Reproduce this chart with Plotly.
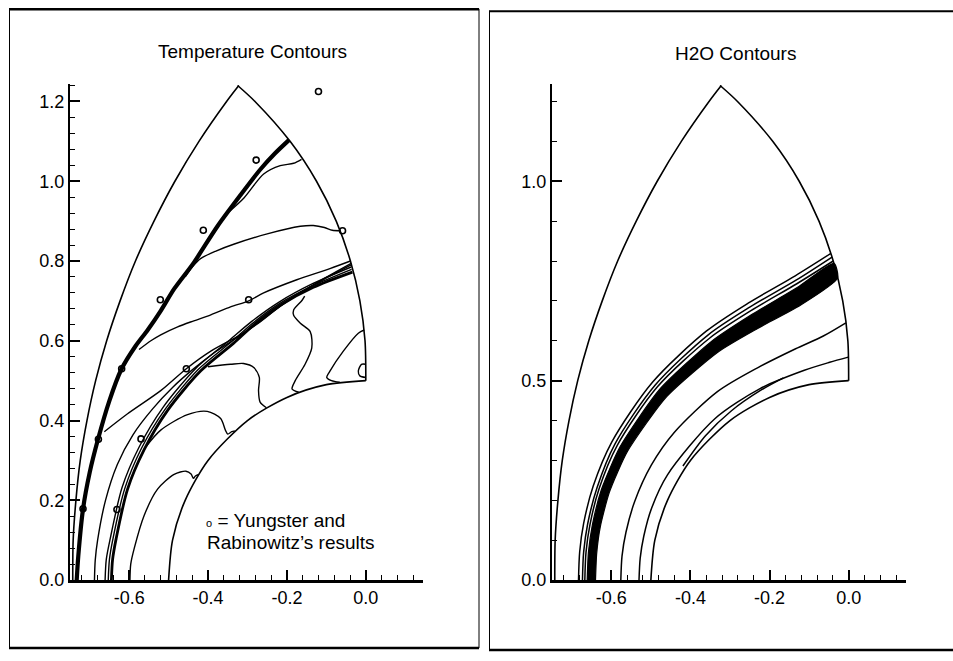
import plotly.graph_objects as go

# ---------------- shared geometry (data units) ----------------
outer_left_x = [-0.743, -0.742, -0.735, -0.724, -0.707, -0.685, -0.657, -0.623, -0.584, -0.537, -0.484, -0.423, -0.353, -0.322]
outer_left_y = [0.000, 0.100, 0.200, 0.300, 0.400, 0.500, 0.600, 0.700, 0.800, 0.900, 1.000, 1.100, 1.200, 1.240]
outer_right_x = [-0.325, -0.281, -0.192, -0.125, -0.075, -0.039, -0.015, -0.002, 0.000]
outer_right_y = [1.240, 1.200, 1.100, 1.000, 0.900, 0.800, 0.700, 0.600, 0.500]
body_x = [0.000, -0.100, -0.200, -0.300, -0.400, -0.458, -0.490, -0.500]
body_y = [0.500, 0.490, 0.458, 0.400, 0.300, 0.200, 0.100, 0.000]

# ---------------- temperature contours (left) ----------------
tA_x = [-0.733, -0.729, -0.717, -0.700, -0.679, -0.650, -0.620, -0.585, -0.553, -0.520, -0.486, -0.436, -0.377, -0.318, -0.267, -0.230, -0.195]
tA_y = [0.000, 0.060, 0.178, 0.270, 0.353, 0.450, 0.528, 0.585, 0.627, 0.675, 0.730, 0.796, 0.886, 0.965, 1.030, 1.070, 1.103]
tB_x = [-0.345, -0.309, -0.259, -0.217, -0.183, -0.163]
tB_y = [0.925, 0.958, 1.018, 1.039, 1.045, 1.055]
tC_x = [-0.458, -0.440, -0.419, -0.380, -0.335, -0.250, -0.166, -0.133, -0.105, -0.085, -0.064]
tC_y = [0.760, 0.785, 0.806, 0.825, 0.842, 0.868, 0.887, 0.889, 0.884, 0.877, 0.876]
tD_x = [-0.575, -0.545, -0.520, -0.477, -0.436, -0.393, -0.343, -0.297, -0.259, -0.175, -0.091, -0.039]
tD_y = [0.578, 0.600, 0.615, 0.635, 0.650, 0.665, 0.685, 0.700, 0.720, 0.753, 0.781, 0.800]
tF_x = [-0.663, -0.604, -0.520, -0.455, -0.393, -0.318, -0.267, -0.200, -0.120, -0.037]
tF_y = [0.372, 0.417, 0.475, 0.530, 0.574, 0.615, 0.648, 0.700, 0.748, 0.794]
tE1_x = [-0.688, -0.686, -0.680, -0.660, -0.630, -0.590, -0.540, -0.490, -0.440, -0.380, -0.320, -0.260, -0.190, -0.110, -0.037]
tE1_y = [0.000, 0.050, 0.100, 0.200, 0.290, 0.365, 0.430, 0.483, 0.527, 0.573, 0.612, 0.655, 0.705, 0.752, 0.790]
tE2_x = [-0.661, -0.658, -0.648, -0.618, -0.575, -0.515, -0.430, -0.345, -0.290, -0.220, -0.135, -0.037]
tE2_y = [0.000, 0.052, 0.104, 0.232, 0.333, 0.432, 0.532, 0.602, 0.648, 0.697, 0.743, 0.785]
tE3_x = [-0.653, -0.650, -0.641, -0.611, -0.569, -0.509, -0.425, -0.340, -0.287, -0.219, -0.134, -0.036]
tE3_y = [0.000, 0.052, 0.104, 0.230, 0.330, 0.428, 0.528, 0.598, 0.644, 0.693, 0.738, 0.779]
tE_x = [-0.645, -0.642, -0.633, -0.604, -0.562, -0.503, -0.419, -0.335, -0.284, -0.217, -0.133, -0.034]
tE_y = [0.000, 0.052, 0.104, 0.228, 0.327, 0.425, 0.524, 0.594, 0.640, 0.689, 0.734, 0.772]
tG_x = [-0.598, -0.596, -0.587, -0.562, -0.528, -0.486, -0.456, -0.443, -0.437, -0.432, -0.425]
tG_y = [0.000, 0.040, 0.080, 0.162, 0.228, 0.265, 0.273, 0.266, 0.255, 0.261, 0.264]
tL_x = [-0.557, -0.520, -0.452, -0.402, -0.368, -0.356, -0.350, -0.340, -0.332]
tL_y = [0.335, 0.376, 0.415, 0.423, 0.405, 0.376, 0.366, 0.372, 0.374]
tH_x = [-0.400, -0.343, -0.310, -0.284, -0.270, -0.272, -0.268, -0.252]
tH_y = [0.535, 0.541, 0.543, 0.533, 0.508, 0.475, 0.446, 0.432]
tI_x = [-0.155, -0.162, -0.183, -0.183, -0.166, -0.141, -0.137, -0.154, -0.179, -0.187, -0.170]
tI_y = [0.712, 0.701, 0.677, 0.664, 0.644, 0.623, 0.582, 0.541, 0.500, 0.479, 0.471]
tJ_x = [-0.004, -0.019, -0.057, -0.091, -0.099, -0.087, -0.066]
tJ_y = [0.627, 0.619, 0.574, 0.524, 0.508, 0.500, 0.496]
tK_x = [0.000, -0.011, -0.019, -0.015, 0.000]
tK_y = [0.541, 0.541, 0.524, 0.512, 0.508]

# Yungster and Rabinowitz's results (open circles)
ref_x = [-0.120, -0.278, -0.412, -0.059, -0.521, -0.297, -0.619, -0.455, -0.678, -0.570, -0.717, -0.631]
ref_y = [1.225, 1.053, 0.877, 0.876, 0.703, 0.703, 0.530, 0.530, 0.353, 0.354, 0.179, 0.177]

# ---------------- H2O contours (right) ----------------
band_out_x = [-0.661, -0.658, -0.648, -0.625, -0.578, -0.478, -0.346, -0.243, -0.129, -0.037]
band_out_y = [0.000, 0.069, 0.138, 0.227, 0.334, 0.478, 0.599, 0.667, 0.734, 0.794]
band_in_x = [-0.640, -0.637, -0.628, -0.605, -0.559, -0.460, -0.330, -0.230, -0.122, -0.028]
band_in_y = [0.000, 0.067, 0.133, 0.220, 0.323, 0.460, 0.572, 0.631, 0.689, 0.757]
hR1_x = [-0.683, -0.680, -0.670, -0.646, -0.599, -0.496, -0.360, -0.253, -0.135, -0.045]
hR1_y = [0.000, 0.071, 0.142, 0.235, 0.346, 0.496, 0.624, 0.695, 0.763, 0.819]
hR2_x = [-0.673, -0.670, -0.660, -0.636, -0.591, -0.489, -0.355, -0.249, -0.133, -0.042]
hR2_y = [0.000, 0.070, 0.140, 0.232, 0.341, 0.489, 0.615, 0.685, 0.752, 0.810]
hR3_x = [-0.667, -0.664, -0.654, -0.631, -0.585, -0.484, -0.351, -0.246, -0.131, -0.039]
hR3_y = [0.000, 0.070, 0.139, 0.229, 0.338, 0.484, 0.607, 0.676, 0.743, 0.800]
hP_x = [-0.576, -0.573, -0.563, -0.541, -0.499, -0.441, -0.331, -0.227, -0.134, -0.064, -0.007]
hP_y = [0.000, 0.060, 0.120, 0.197, 0.288, 0.370, 0.473, 0.534, 0.580, 0.612, 0.645]
hQ_x = [-0.530, -0.527, -0.518, -0.498, -0.458, -0.339, -0.224, -0.112, -0.048, -0.001]
hQ_y = [0.000, 0.055, 0.110, 0.181, 0.264, 0.404, 0.480, 0.526, 0.546, 0.559]
hT_x = [-0.419, -0.362, -0.297, -0.222, -0.165]
hT_y = [0.286, 0.362, 0.424, 0.476, 0.507]
hU_x = [-0.268, -0.239, -0.200, -0.172, -0.205, -0.245, -0.268]
hU_y = [0.625, 0.641, 0.655, 0.664, 0.652, 0.636, 0.625]

# ---------------- figure ----------------
fig = go.Figure()


def add_line(x, y, xa, ya, width=1.4, smoothing=0.8, shape="spline"):
    fig.add_trace(go.Scatter(
        x=x, y=y, mode="lines", xaxis=xa, yaxis=ya,
        line=dict(color="black", width=width, shape=shape, smoothing=smoothing),
        hoverinfo="skip", showlegend=False))


for xa, ya in (("x", "y"), ("x2", "y2")):
    add_line(outer_left_x, outer_left_y, xa, ya, 1.6)
    add_line(outer_right_x, outer_right_y, xa, ya, 1.6)
    add_line(body_x, body_y, xa, ya, 1.6)

# left panel
add_line(tA_x, tA_y, "x", "y", 4.2)
for cx, cy in ((tB_x, tB_y), (tC_x, tC_y), (tD_x, tD_y), (tF_x, tF_y), (tE1_x, tE1_y),
               (tE2_x, tE2_y), (tE3_x, tE3_y), (tG_x, tG_y), (tL_x, tL_y), (tH_x, tH_y),
               (tI_x, tI_y), (tJ_x, tJ_y), (tK_x, tK_y)):
    add_line(cx, cy, "x", "y", 1.4)
add_line(tE_x, tE_y, "x", "y", 2.8)

fig.add_trace(go.Scatter(
    x=ref_x, y=ref_y, mode="markers", xaxis="x", yaxis="y",
    marker=dict(symbol="circle-open", size=6, color="black", line=dict(width=1.6)),
    hoverinfo="skip", showlegend=False))

# right panel
fig.add_trace(go.Scatter(
    x=band_out_x + band_in_x[::-1], y=band_out_y + band_in_y[::-1],
    mode="lines", fill="toself", fillcolor="black", xaxis="x2", yaxis="y2",
    line=dict(color="black", width=1.2, shape="spline", smoothing=0.6),
    hoverinfo="skip", showlegend=False))
for cx, cy in ((hR1_x, hR1_y), (hR2_x, hR2_y), (hR3_x, hR3_y), (hP_x, hP_y),
               (hQ_x, hQ_y), (hT_x, hT_y), (hU_x, hU_y)):
    add_line(cx, cy, "x2", "y2", 1.5)

W, H = 953, 661
tickfont = dict(family="Liberation Sans, Arial, sans-serif", size=18, color="black")
xt_vals = [-0.6, -0.4, -0.2, 0.0]
xt_text = ["-0.6", "-0.4", "-0.2", "0.0"]
yl_vals = [0.0, 0.2, 0.4, 0.6, 0.8, 1.0, 1.2]
yl_text = ["0.0", "0.2", "0.4", "0.6", "0.8", "1.0", "1.2"]
yr_vals = [0.0, 0.5, 1.0]
yr_text = ["0.0", "0.5", "1.0"]

y_dom = [1 - 589 / H, 1 - 84.8 / H]


def xax(dom, anchor):
    return dict(domain=dom, range=[-0.75, 0.145], anchor=anchor, tickmode="array",
                tickvals=xt_vals, ticktext=xt_text, ticks="inside", ticklen=10,
                tickwidth=1.5, tickcolor="black", showline=True, linewidth=2.5,
                linecolor="black", showgrid=False, zeroline=False, tickfont=tickfont,
                minor=dict(tickmode="linear", tick0=0, dtick=0.04, ticks="inside",
                           ticklen=5, tickwidth=1.2, tickcolor="black"))


def yax(vals, text, dminor, anchor):
    return dict(domain=y_dom, range=[0, 1.245], anchor=anchor, tickmode="array",
                tickvals=vals, ticktext=text, ticks="inside", ticklen=10,
                tickwidth=1.5, tickcolor="black", showline=True, linewidth=2,
                linecolor="black", showgrid=False, zeroline=False, tickfont=tickfont,
                minor=dict(tickmode="linear", tick0=0, dtick=dminor, ticks="inside",
                           ticklen=5, tickwidth=1.2, tickcolor="black"))


fig.update_layout(
    width=W, height=H, margin=dict(l=0, r=0, t=0, b=0),
    paper_bgcolor="white", plot_bgcolor="white", showlegend=False,
    xaxis=xax([70 / W, 423 / W], "y"),
    yaxis=yax(yl_vals, yl_text, 0.04, "x"),
    xaxis2=xax([552 / W, 906 / W], "y2"),
    yaxis2=yax(yr_vals, yr_text, 0.1, "x2"),
)

titlefont = dict(family="Liberation Sans, Arial, sans-serif", size=19, color="black")
legfont = dict(family="Liberation Sans, Arial, sans-serif", size=19, color="black")
fig.add_annotation(x=252.5 / W, y=1 - 52 / H, xref="paper", yref="paper", text="Temperature Contours",
                   showarrow=False, font=titlefont, xanchor="center", yanchor="middle")
fig.add_annotation(x=735 / W, y=1 - 54 / H, xref="paper", yref="paper", text="H2O Contours",
                   showarrow=False, font=titlefont, xanchor="center", yanchor="middle")
fig.add_annotation(x=204 / W, y=1 - 529 / H, xref="paper", yref="paper",
                   text="<span style='font-size:11px'>o</span> = Yungster and",
                   showarrow=False, font=legfont, xanchor="left", yanchor="middle")
fig.add_annotation(x=205 / W, y=1 - 551 / H, xref="paper", yref="paper",
                   text="Rabinowitz’s results",
                   showarrow=False, font=legfont, xanchor="left", yanchor="middle")

# page frames around the two panels
frame = [
    (9, 9.5, 479, 9.5, 2.5), (9.5, 9, 9.5, 658, 1), (9, 658, 479, 658, 2.5), (479, 9, 479, 658, 1),
    (489, 11.5, 953, 11.5, 2), (489.5, 11, 489.5, 660, 1), (489, 660, 953, 660, 2.5),
]
for x0, y0, x1, y1, w in frame:
    fig.add_shape(type="line", xref="paper", yref="paper", x0=x0 / W, x1=x1 / W,
                  y0=1 - y0 / H, y1=1 - y1 / H, line=dict(color="black", width=w))

fig.write_html("out.html")
